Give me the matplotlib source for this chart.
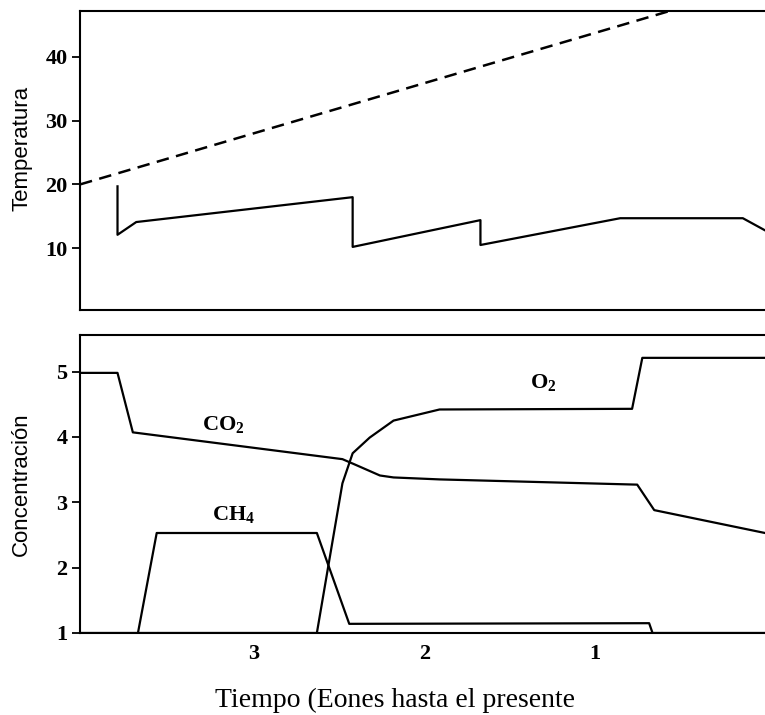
import matplotlib.pyplot as plt

plt.rcParams["mathtext.default"] = "regular"

# Temperature panel (x = eons before present)
temp_trend_x = [4.02, 0.56]
temp_trend_y = [20.0, 47.2]

temp_x = [3.80, 3.80, 3.69, 2.42, 2.42, 1.67, 1.67, 0.85, 0.13, 0.0]
temp_y = [19.7, 12.1, 14.1, 18.0, 10.2, 14.4, 10.5, 14.7, 14.7, 12.8]

# Concentration panel
co2_x = [4.02, 3.80, 3.71, 2.48, 2.40, 2.26, 2.18, 1.91, 0.75, 0.65, 0.0]
co2_y = [4.98, 4.98, 4.07, 3.66, 3.57, 3.41, 3.38, 3.35, 3.27, 2.88, 2.53]

ch4_x = [3.68, 3.57, 2.63, 2.44, 0.68, 0.66, 0.0]
ch4_y = [1.0, 2.53, 2.53, 1.14, 1.15, 1.0, 1.0]

o2_x = [4.02, 2.63, 2.48, 2.42, 2.32, 2.18, 1.91, 0.78, 0.72, 0.0]
o2_y = [1.0, 1.0, 3.29, 3.75, 3.99, 4.25, 4.42, 4.43, 5.21, 5.21]

gas_labels = ["CO$_2$", "CH$_4$", "O$_2$"]
gas_label_x = [3.18, 3.12, 1.30]
gas_label_y = [4.19, 2.82, 4.84]

temp_ticks = [10, 20, 30, 40]
conc_ticks = [1, 2, 3, 4, 5]
time_ticks = [3, 2, 1]

SERIF = "Liberation Serif"
SANS = "Liberation Sans"

fig = plt.figure(figsize=(7.65, 7.15), dpi=100)
ax1 = fig.add_axes([0.1046, 0.5664, 0.8954, 0.4182])
ax2 = fig.add_axes([0.1046, 0.1147, 0.8954, 0.4168])

for ax in (ax1, ax2):
    ax.set_xlim(4.02, 0.0)
    ax.spines["right"].set_visible(False)
    for side in ("left", "top", "bottom"):
        ax.spines[side].set_linewidth(1.5)
    ax.tick_params(axis="y", direction="out", length=6, width=1.3, pad=3)

# --- temperature ---
ax1.plot(temp_trend_x, temp_trend_y, color="black", lw=1.8, ls=(0, (5, 3)))
ax1.plot(temp_x, temp_y, color="black", lw=1.6)
ax1.set_ylim(0.3, 47.2)
ax1.set_yticks(temp_ticks)
ax1.set_yticklabels([str(t) for t in temp_ticks], fontfamily=SERIF,
                    fontweight="bold", fontsize=16)
ax1.set_xticks([])
ax1.set_ylabel("Temperatura", fontfamily=SANS, fontsize=16)
ax1.yaxis.set_label_coords(-0.07, 0.54)

# --- concentration ---
ax2.plot(co2_x, co2_y, color="black", lw=1.6)
ax2.plot(ch4_x, ch4_y, color="black", lw=1.6)
ax2.plot(o2_x, o2_y, color="black", lw=1.6)
for txt, tx, ty in zip(gas_labels, gas_label_x, gas_label_y):
    ax2.text(tx, ty, txt, fontfamily=SERIF, fontweight="bold", fontsize=16,
             ha="center", va="center")
ax2.set_ylim(1.0, 5.56)
ax2.set_yticks(conc_ticks)
ax2.set_yticklabels([str(t) for t in conc_ticks], fontfamily=SERIF,
                    fontweight="bold", fontsize=16)
ax2.set_xticks(time_ticks)
ax2.set_xticklabels([str(t) for t in time_ticks], fontfamily=SERIF,
                    fontweight="bold", fontsize=16)
ax2.tick_params(axis="x", length=0, pad=8)
ax2.set_ylabel("Concentración", fontfamily=SANS, fontsize=16)
ax2.yaxis.set_label_coords(-0.07, 0.50)

fig.text(395 / 765, 1 - 700 / 715, "Tiempo (Eones hasta el presente",
         fontfamily=SERIF, fontsize=20, ha="center", va="center")

fig.savefig("out.png", dpi=100)
